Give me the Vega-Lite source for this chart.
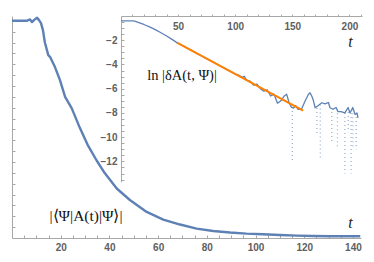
{
  "$schema": "https://vega.github.io/schema/vega-lite/v6.json",
  "width": 349,
  "height": 222,
  "autosize": {"type": "none"},
  "padding": {"left": 12, "top": 16, "right": 13, "bottom": 24},
  "background": "white",
  "config": {
    "view": {"stroke": null},
    "axis": {
      "grid": false,
      "domainColor": "#a8a8a8",
      "tickColor": "#a8a8a8",
      "labelColor": "#606060",
      "labelFont": "Liberation Sans",
      "labelFontSize": 10,
      "labelFontWeight": "bold",
      "labelOverlap": false,
      "labelFlush": false,
      "titleFont": "Liberation Serif",
      "titleFontStyle": "italic",
      "titleFontWeight": "normal",
      "titleFontSize": 16,
      "titleColor": "#222222"
    }
  },
  "datasets": {
    "main": [
      {"t": 0, "v": 1.0}, {"t": 3, "v": 1.0}, {"t": 6, "v": 1.0}, {"t": 7.4, "v": 1.006},
      {"t": 8.2, "v": 0.994}, {"t": 9, "v": 1.003}, {"t": 10.3, "v": 1.014}, {"t": 11.1, "v": 1.003},
      {"t": 11.9, "v": 0.989}, {"t": 12.7, "v": 0.957}, {"t": 13.5, "v": 0.9}, {"t": 14.9, "v": 0.842},
      {"t": 15.6, "v": 0.834}, {"t": 17.6, "v": 0.788}, {"t": 19.7, "v": 0.727}, {"t": 21.8, "v": 0.65},
      {"t": 24.5, "v": 0.598}, {"t": 27.9, "v": 0.506}, {"t": 31, "v": 0.43}, {"t": 34.7, "v": 0.358},
      {"t": 38, "v": 0.3}, {"t": 43, "v": 0.228}, {"t": 48.4, "v": 0.175}, {"t": 55.3, "v": 0.12},
      {"t": 62.1, "v": 0.085}, {"t": 69, "v": 0.062}, {"t": 75.8, "v": 0.043}, {"t": 82.6, "v": 0.032},
      {"t": 89.5, "v": 0.025}, {"t": 96.3, "v": 0.02}, {"t": 103, "v": 0.017}, {"t": 110, "v": 0.014},
      {"t": 116.9, "v": 0.011}, {"t": 123.7, "v": 0.009}, {"t": 130.5, "v": 0.008}, {"t": 137, "v": 0.008},
      {"t": 143, "v": 0.008}
    ],
    "inset": [
      {"t": 0, "v": -0.4}, {"t": 5, "v": -0.4}, {"t": 10, "v": -0.4}, {"t": 12, "v": -0.43},
      {"t": 15, "v": -0.53}, {"t": 20, "v": -0.7}, {"t": 25, "v": -0.9}, {"t": 30, "v": -1.12},
      {"t": 35, "v": -1.38}, {"t": 40, "v": -1.65}, {"t": 45, "v": -1.95}, {"t": 49, "v": -2.2},
      {"t": 55, "v": -2.5}, {"t": 60, "v": -2.76}, {"t": 65, "v": -3.0}, {"t": 70, "v": -3.26},
      {"t": 75, "v": -3.52}, {"t": 80, "v": -3.77}, {"t": 85, "v": -4.02}, {"t": 90, "v": -4.28},
      {"t": 95, "v": -4.53}, {"t": 100, "v": -4.79}, {"t": 103, "v": -4.88}, {"t": 106, "v": -5.05},
      {"t": 108, "v": -4.98}, {"t": 110, "v": -5.3}, {"t": 113, "v": -5.38}, {"t": 116, "v": -5.7},
      {"t": 119, "v": -5.62}, {"t": 122, "v": -6.0}, {"t": 125, "v": -6.2}, {"t": 128, "v": -6.1},
      {"t": 131, "v": -6.6}, {"t": 134, "v": -6.45}, {"t": 137, "v": -7.2}, {"t": 140, "v": -7.0},
      {"t": 143, "v": -6.6}, {"t": 145, "v": -6.45}, {"t": 147, "v": -7.1}, {"t": 149, "v": -7.5},
      {"t": 151, "v": -7.6}, {"t": 153, "v": -7.4}, {"t": 155, "v": -7.7}, {"t": 158, "v": -7.7},
      {"t": 161, "v": -7.05}, {"t": 164, "v": -6.48}, {"t": 165.5, "v": -6.34}, {"t": 167, "v": -6.6},
      {"t": 168.5, "v": -7.0}, {"t": 170, "v": -7.57}, {"t": 172.5, "v": -7.4}, {"t": 175.8, "v": -7.16},
      {"t": 178.7, "v": -7.26}, {"t": 181.6, "v": -7.14}, {"t": 183, "v": -7.57}, {"t": 185.6, "v": -7.7},
      {"t": 188.3, "v": -7.55}, {"t": 190, "v": -7.9}, {"t": 192.6, "v": -7.9}, {"t": 196, "v": -8.0},
      {"t": 198.8, "v": -7.55}, {"t": 200.5, "v": -8.0}, {"t": 202.9, "v": -7.55}, {"t": 205, "v": -8.13},
      {"t": 206.6, "v": -8.0}, {"t": 207.5, "v": -8.4}
    ],
    "spikes": [
      {"t": 150, "v": -7.5, "vb": -11.9}, {"t": 171.5, "v": -7.6, "vb": -9.8},
      {"t": 174.5, "v": -7.3, "vb": -11.7}, {"t": 184.5, "v": -7.6, "vb": -10.4},
      {"t": 189.5, "v": -7.7, "vb": -10.8}, {"t": 196, "v": -8.0, "vb": -13.0},
      {"t": 199, "v": -7.6, "vb": -9.6}, {"t": 201.5, "v": -8.0, "vb": -13.0},
      {"t": 203, "v": -7.7, "vb": -10.9}, {"t": 206, "v": -8.0, "vb": -11.0}
    ],
    "fit": [{"t": 49, "v": -2.2}, {"t": 159.5, "v": -7.8}]
  },
  "layer": [
    {
      "encoding": {
        "x": {
          "field": "t", "type": "quantitative",
          "scale": {"domain": [0, 143.3], "nice": false, "zero": false},
          "axis": {
            "orient": "bottom",
            "values": [5,10,15,20,25,30,35,40,45,50,55,60,65,70,75,80,85,90,95,100,105,110,115,120,125,130,135,140],
            "labelExpr": "datum.value % 20 === 0 ? datum.label : ''",
            "tickSize": -3,
            "labelPadding": 7,
            "title": "t",
            "titleX": 338, "titleY": -16,
            "titleAlign": "center", "titleBaseline": "middle"
          }
        },
        "y": {
          "field": "v", "type": "quantitative",
          "scale": {"domain": [0, 1.022], "nice": false, "zero": false},
          "axis": {
            "orient": "left",
            "values": [0.05,0.1,0.15,0.2,0.25,0.3,0.35,0.4,0.45,0.5,0.55,0.6,0.65,0.7,0.75,0.8,0.85,0.9,0.95,1.0],
            "labels": false,
            "tickSize": -3,
            "title": null
          }
        }
      },
      "layer": [
        {
          "data": {"name": "main"},
          "mark": {"type": "line", "color": "#5E81B5", "strokeWidth": 2.4, "strokeJoin": "round"}
        },
        {
          "data": {"values": [{"t": 30.4, "v": 0.101, "label": "|⟨Ψ|A(t)|Ψ⟩|"}]},
          "mark": {"type": "text", "font": "Liberation Serif", "fontSize": 15.5, "color": "#111111", "align": "center", "baseline": "middle"},
          "encoding": {"text": {"field": "label"}}
        }
      ]
    },
    {
      "encoding": {
        "x": {
          "field": "t", "type": "quantitative",
          "scale": {"domain": [0, 211], "range": [109, 350], "nice": false, "zero": false},
          "axis": {
            "orient": "bottom",
            "offset": -222,
            "values": [10,20,30,40,50,60,70,80,90,100,110,120,130,140,150,160,170,180,190,200,210],
            "labelExpr": "datum.value % 50 === 0 ? datum.label : ''",
            "tickSize": -2,
            "labelPadding": 7,
            "title": "t",
            "titleX": 338, "titleY": 25,
            "titleAlign": "center", "titleBaseline": "middle"
          }
        },
        "y": {
          "field": "v", "type": "quantitative",
          "scale": {"domain": [-13.7, 0], "range": [166, 0], "nice": false, "zero": false},
          "axis": {
            "orient": "left",
            "offset": -109,
            "values": [-13.5,-13,-12.5,-12,-11.5,-11,-10.5,-10,-9.5,-9,-8.5,-8,-7.5,-7,-6.5,-6,-5.5,-5,-4.5,-4,-3.5,-3,-2.5,-2,-1.5,-1,-0.5],
            "labelExpr": "datum.value % 2 === 0 ? replace(datum.label, '.0', '') : ''",
            "tickSize": -3,
            "labelPadding": 7,
            "title": null
          }
        }
      },
      "layer": [
        {
          "data": {"name": "spikes"},
          "mark": {"type": "rule", "color": "#5E81B5", "strokeWidth": 1.3, "strokeDash": [1, 3], "opacity": 0.6},
          "encoding": {"y2": {"field": "vb"}}
        },
        {
          "data": {"name": "inset"},
          "mark": {"type": "line", "color": "#5E81B5", "strokeWidth": 1.3, "strokeJoin": "round"}
        },
        {
          "data": {"name": "fit"},
          "mark": {"type": "line", "color": "#FF8000", "strokeWidth": 2}
        },
        {
          "data": {"values": [{"t": 53.4, "v": -4.95, "label": "ln |δA(t, Ψ)|"}]},
          "mark": {"type": "text", "font": "Liberation Serif", "fontSize": 14.5, "color": "#111111", "align": "center", "baseline": "middle"},
          "encoding": {"text": {"field": "label"}}
        }
      ]
    }
  ],
  "resolve": {
    "scale": {"x": "independent", "y": "independent"},
    "axis": {"x": "independent", "y": "independent"}
  }
}
